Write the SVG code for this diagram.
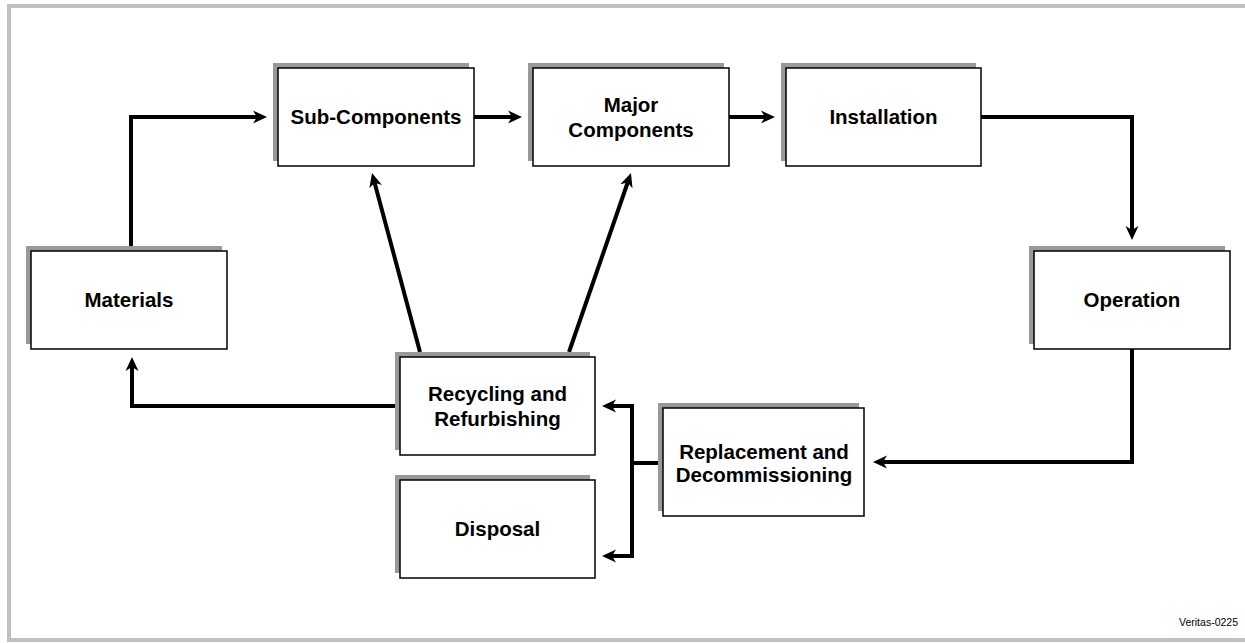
<svg xmlns="http://www.w3.org/2000/svg" width="1245" height="643" viewBox="0 0 1245 643">
<style>
.shadow{fill:#999999;}
.box{fill:#ffffff;stroke:#000000;stroke-width:1.5;}
.lbl{font-family:"Liberation Sans",Arial,sans-serif;font-weight:bold;font-size:20.5px;fill:#000000;text-anchor:middle;}
.conn{fill:none;stroke:#000000;stroke-width:4;stroke-linejoin:miter;marker-end:url(#arrow);}
</style>
<defs>
<marker id="arrow" markerUnits="userSpaceOnUse" viewBox="0 0 14 14" markerWidth="14" markerHeight="14" refX="4" refY="7" orient="auto">
<path d="M0,0.5 L14,7 L0,13.5 L4,7 z" fill="#000000"/>
</marker>
</defs>
<rect x="0" y="0" width="1245" height="643" fill="#ffffff"/>
<rect x="9" y="6" width="1245" height="634" fill="none" stroke="#c0c0c0" stroke-width="4"/>

<g id="connectors">
<path class="conn" d="M131,251 V117 H257"/>
<path class="conn" d="M474,117 H512"/>
<path class="conn" d="M729,117 H765"/>
<path class="conn" d="M981,117 H1132 V230"/>
<path class="conn" d="M1132,349 V462 H883"/>
<path class="conn" d="M663,463 H632 V406 H612"/>
<path class="conn" d="M632,463 V556 H612"/>
<path class="conn" d="M400,406 H132 V367"/>
<path class="conn" d="M420,352 L374.6,182.7"/>
<path class="conn" d="M569,352 L627.7,182.5"/>
</g>

<g id="materials">
<rect class="shadow" x="26" y="246" width="196" height="98"/>
<rect class="box" x="31" y="251" width="196" height="98"/>
<text class="lbl" x="129" y="307">Materials</text>
</g>
<g id="sub-components">
<rect class="shadow" x="273" y="63" width="196" height="98"/>
<rect class="box" x="278" y="68" width="196" height="98"/>
<text class="lbl" x="376" y="124">Sub-Components</text>
</g>
<g id="major-components">
<rect class="shadow" x="528" y="63" width="196" height="98"/>
<rect class="box" x="533" y="68" width="196" height="98"/>
<text class="lbl" x="631" y="111.5">Major</text>
<text class="lbl" x="631" y="136.5">Components</text>
</g>
<g id="installation">
<rect class="shadow" x="781" y="63" width="195" height="98"/>
<rect class="box" x="786" y="68" width="195" height="98"/>
<text class="lbl" x="883.5" y="124">Installation</text>
</g>
<g id="operation">
<rect class="shadow" x="1029" y="246" width="196" height="98"/>
<rect class="box" x="1034" y="251" width="196" height="98"/>
<text class="lbl" x="1132" y="307">Operation</text>
</g>
<g id="replacement">
<rect class="shadow" x="658" y="403" width="201" height="108"/>
<rect class="box" x="663" y="408" width="201" height="108"/>
<text class="lbl" x="764" y="459">Replacement and</text>
<text class="lbl" x="764" y="482">Decommissioning</text>
</g>
<g id="recycling">
<rect class="shadow" x="395" y="352" width="195" height="98"/>
<rect class="box" x="400" y="357" width="195" height="98"/>
<text class="lbl" x="497.5" y="400.5">Recycling and</text>
<text class="lbl" x="497.5" y="425.5">Refurbishing</text>
</g>
<g id="disposal">
<rect class="shadow" x="395" y="475" width="195" height="98"/>
<rect class="box" x="400" y="480" width="195" height="98"/>
<text class="lbl" x="497.5" y="536">Disposal</text>
</g>
<text x="1238" y="626" font-family="Liberation Sans, Arial, sans-serif" font-size="10.5" text-anchor="end" fill="#000000">Veritas-0225</text>
</svg>
